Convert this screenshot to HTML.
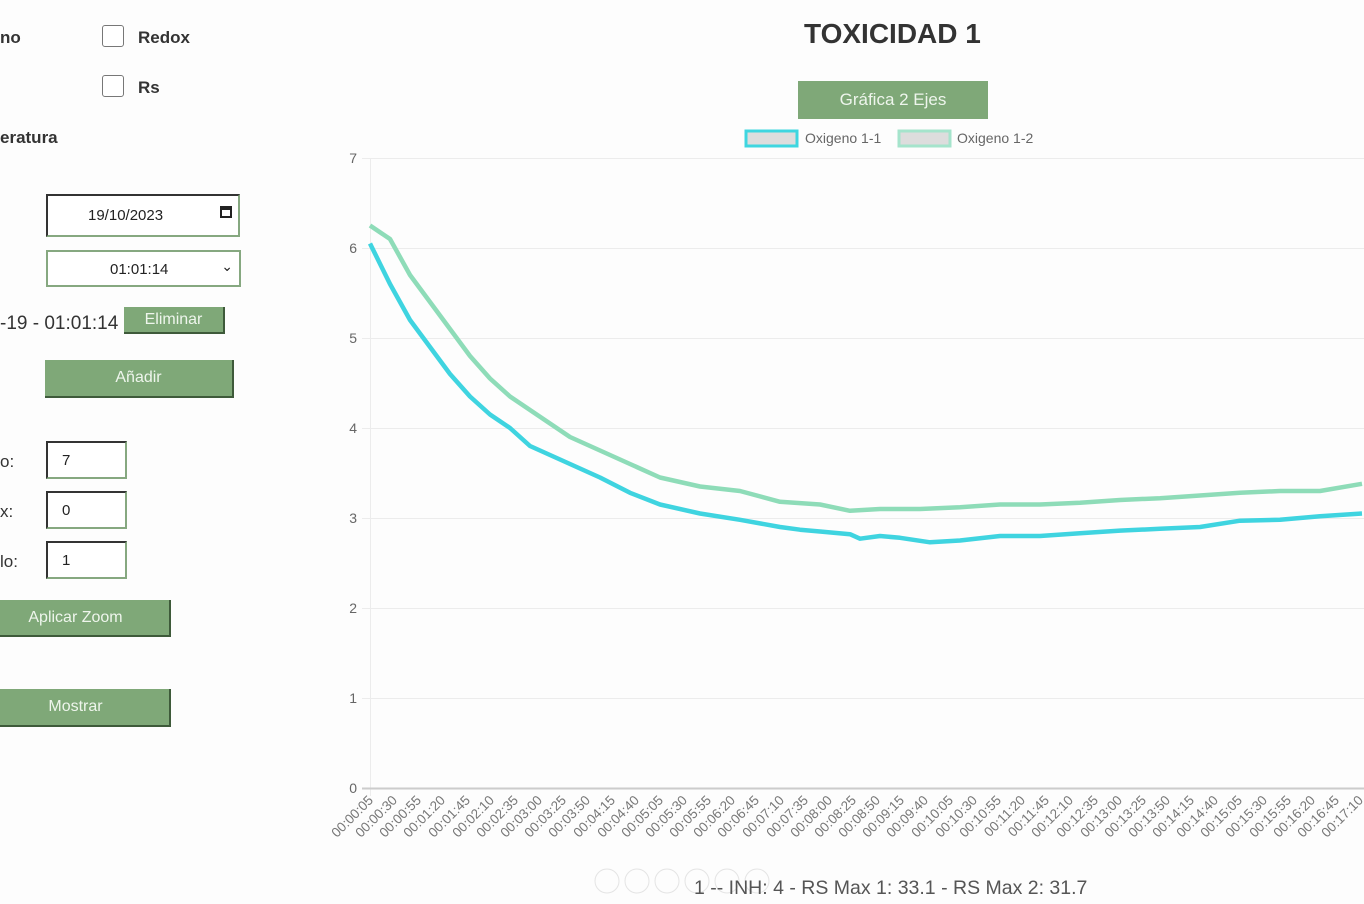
<!DOCTYPE html>
<html><head><meta charset="utf-8"><style>
body{margin:0;width:1364px;height:904px;background:#fdfdfd;font-family:"Liberation Sans",sans-serif;position:relative;overflow:hidden}
.a{position:absolute}
.cb{position:absolute;width:20px;height:20px;border:1.5px solid #777;border-radius:3px;background:#fff}
.lbl{position:absolute;font-size:17px;color:#333;font-weight:bold}
.btn{position:absolute;background:#7fa878;color:#eef5ec;font-size:16px;text-align:center;border-right:2px solid #3e5a3a;border-bottom:2px solid #3e5a3a;box-sizing:border-box}
.inp{position:absolute;border:2px solid #86a880;border-left-color:#333;border-top-color:#333;background:#fff;box-sizing:border-box;font-size:15px;color:#222}
</style></head><body>
<div class="lbl" style="left:0;top:28px">no</div>
<div class="cb" style="left:102px;top:25px"></div><div class="lbl" style="left:138px;top:28px">Redox</div>
<div class="cb" style="left:102px;top:75px"></div><div class="lbl" style="left:138px;top:78px">Rs</div>
<div class="lbl" style="left:0;top:128px">eratura</div>
<div class="inp" style="left:46px;top:194px;width:194px;height:43px;padding:11px 0 0 40px">19/10/2023<span style="position:absolute;right:6px;top:10px;width:12px;height:12px;border:2px solid #222;border-top-width:4px;box-sizing:border-box"></span></div>
<div class="inp" style="left:46px;top:250px;width:195px;height:37px;padding:9px 0 0 62px;border-color:#86a880">01:01:14<span style="position:absolute;right:6px;top:6px;font-size:14px">&#8964;</span></div>
<div class="a" style="left:0;top:313px;font-size:19px;color:#333">-19 - 01:01:14</div>
<div class="btn" style="left:124px;top:307px;width:101px;height:27px;line-height:25px">Eliminar</div>
<div class="btn" style="left:45px;top:360px;width:189px;height:38px;line-height:36px">Añadir</div>
<div class="a" style="left:0;top:452px;font-size:17px;color:#333">o:</div>
<div class="a" style="left:0;top:502px;font-size:17px;color:#333">x:</div>
<div class="a" style="left:0;top:552px;font-size:17px;color:#333">lo:</div>
<div class="inp" style="left:46px;top:441px;width:81px;height:38px;padding:9px 0 0 14px">7</div>
<div class="inp" style="left:46px;top:491px;width:81px;height:38px;padding:9px 0 0 14px">0</div>
<div class="inp" style="left:46px;top:541px;width:81px;height:38px;padding:9px 0 0 14px">1</div>
<div class="btn" style="left:0;top:600px;width:171px;height:37px;line-height:35px;padding-right:18px">Aplicar Zoom</div>
<div class="btn" style="left:0;top:689px;width:171px;height:38px;line-height:36px;padding-right:18px">Mostrar</div>
<div class="a" style="left:804px;top:18px;font-size:28px;font-weight:bold;color:#333">TOXICIDAD 1</div>
<div class="btn" style="left:798px;top:81px;width:190px;height:38px;line-height:38px;border:none;font-size:17px">Gráfica 2 Ejes</div>
<svg class="a" style="left:0;top:0" width="1364" height="904">
<rect x="746" y="131" width="51" height="15" fill="#ddd" stroke="#3fd6e0" stroke-width="3"/>
<text x="805" y="143" font-size="14" fill="#666" font-family="Liberation Sans">Oxigeno 1-1</text>
<rect x="899" y="131" width="51" height="15" fill="#ddd" stroke="#a5e4cc" stroke-width="3"/>
<text x="957" y="143" font-size="14" fill="#666" font-family="Liberation Sans">Oxigeno 1-2</text>
<g stroke="#ececec" stroke-width="1">
<line x1="362" y1="158.5" x2="1364" y2="158.5"/><line x1="362" y1="248.5" x2="1364" y2="248.5"/><line x1="362" y1="338.5" x2="1364" y2="338.5"/><line x1="362" y1="428.5" x2="1364" y2="428.5"/><line x1="362" y1="518.5" x2="1364" y2="518.5"/><line x1="362" y1="608.5" x2="1364" y2="608.5"/><line x1="362" y1="698.5" x2="1364" y2="698.5"/>
<line x1="370.5" y1="158" x2="370.5" y2="796"/>
</g>
<line x1="362" y1="788.5" x2="1364" y2="788.5" stroke="#ccc" stroke-width="2"/>
<g font-size="14" fill="#666" text-anchor="end" font-family="Liberation Sans">
<text x="357" y="163">7</text><text x="357" y="253">6</text><text x="357" y="343">5</text><text x="357" y="433">4</text><text x="357" y="523">3</text><text x="357" y="613">2</text><text x="357" y="703">1</text><text x="357" y="793">0</text>
</g>
<polyline fill="none" stroke="#8edcb8" stroke-width="4.5" stroke-linejoin="round" points="370,225.5 390,239 410,275 430,302 450,329 470,356 490,378.5 510,396.5 530,410 550,423.5 570,437 600,450.5 630,464 660,477.5 700,486.5 740,491 780,501.8 820,504.5 850,510.8 880,509 920,509 960,507.2 1000,504.5 1040,504.5 1080,502.7 1120,500 1160,498.2 1200,495.5 1240,492.8 1280,491 1320,491 1362,483.8"/>
<polyline fill="none" stroke="#3fd4e0" stroke-width="4.5" stroke-linejoin="round" points="370,243.5 390,284 410,320 430,347 450,374 470,396.5 490,414.5 510,428 530,446 550,455 570,464 600,477.5 630,492.8 660,504.5 700,513.5 740,519.8 780,527 800,529.7 820,531.5 850,534.2 860,538.7 880,536 900,537.8 930,542.3 960,540.5 1000,536 1040,536 1080,533.3 1120,530.6 1160,528.8 1200,527 1240,520.7 1280,519.8 1320,516.2 1362,513.5"/>
<g font-size="13.5" fill="#777" text-anchor="end" font-family="Liberation Sans">
<text transform="translate(374,801) rotate(-45)">00:00:05</text>
<text transform="translate(398,801) rotate(-45)">00:00:30</text>
<text transform="translate(422,801) rotate(-45)">00:00:55</text>
<text transform="translate(446,801) rotate(-45)">00:01:20</text>
<text transform="translate(471,801) rotate(-45)">00:01:45</text>
<text transform="translate(495,801) rotate(-45)">00:02:10</text>
<text transform="translate(519,801) rotate(-45)">00:02:35</text>
<text transform="translate(543,801) rotate(-45)">00:03:00</text>
<text transform="translate(567,801) rotate(-45)">00:03:25</text>
<text transform="translate(591,801) rotate(-45)">00:03:50</text>
<text transform="translate(616,801) rotate(-45)">00:04:15</text>
<text transform="translate(640,801) rotate(-45)">00:04:40</text>
<text transform="translate(664,801) rotate(-45)">00:05:05</text>
<text transform="translate(688,801) rotate(-45)">00:05:30</text>
<text transform="translate(712,801) rotate(-45)">00:05:55</text>
<text transform="translate(736,801) rotate(-45)">00:06:20</text>
<text transform="translate(760,801) rotate(-45)">00:06:45</text>
<text transform="translate(785,801) rotate(-45)">00:07:10</text>
<text transform="translate(809,801) rotate(-45)">00:07:35</text>
<text transform="translate(833,801) rotate(-45)">00:08:00</text>
<text transform="translate(857,801) rotate(-45)">00:08:25</text>
<text transform="translate(881,801) rotate(-45)">00:08:50</text>
<text transform="translate(905,801) rotate(-45)">00:09:15</text>
<text transform="translate(929,801) rotate(-45)">00:09:40</text>
<text transform="translate(954,801) rotate(-45)">00:10:05</text>
<text transform="translate(978,801) rotate(-45)">00:10:30</text>
<text transform="translate(1002,801) rotate(-45)">00:10:55</text>
<text transform="translate(1026,801) rotate(-45)">00:11:20</text>
<text transform="translate(1050,801) rotate(-45)">00:11:45</text>
<text transform="translate(1074,801) rotate(-45)">00:12:10</text>
<text transform="translate(1099,801) rotate(-45)">00:12:35</text>
<text transform="translate(1123,801) rotate(-45)">00:13:00</text>
<text transform="translate(1147,801) rotate(-45)">00:13:25</text>
<text transform="translate(1171,801) rotate(-45)">00:13:50</text>
<text transform="translate(1195,801) rotate(-45)">00:14:15</text>
<text transform="translate(1219,801) rotate(-45)">00:14:40</text>
<text transform="translate(1243,801) rotate(-45)">00:15:05</text>
<text transform="translate(1268,801) rotate(-45)">00:15:30</text>
<text transform="translate(1292,801) rotate(-45)">00:15:55</text>
<text transform="translate(1316,801) rotate(-45)">00:16:20</text>
<text transform="translate(1340,801) rotate(-45)">00:16:45</text>
<text transform="translate(1364,801) rotate(-45)">00:17:10</text>
</g>
<g fill="none" stroke="#e4e4e4" stroke-width="1">
<circle cx="607" cy="881" r="12"/><circle cx="637" cy="881" r="12"/><circle cx="667" cy="881" r="12"/><circle cx="697" cy="881" r="12"/><circle cx="727" cy="881" r="12"/><circle cx="757" cy="881" r="12"/>
</g>
<text x="694" y="894" font-size="19.5" fill="#555" font-family="Liberation Sans">1 -- INH: 4 - RS Max 1: 33.1 - RS Max 2: 31.7</text>
</svg>
</body></html>
